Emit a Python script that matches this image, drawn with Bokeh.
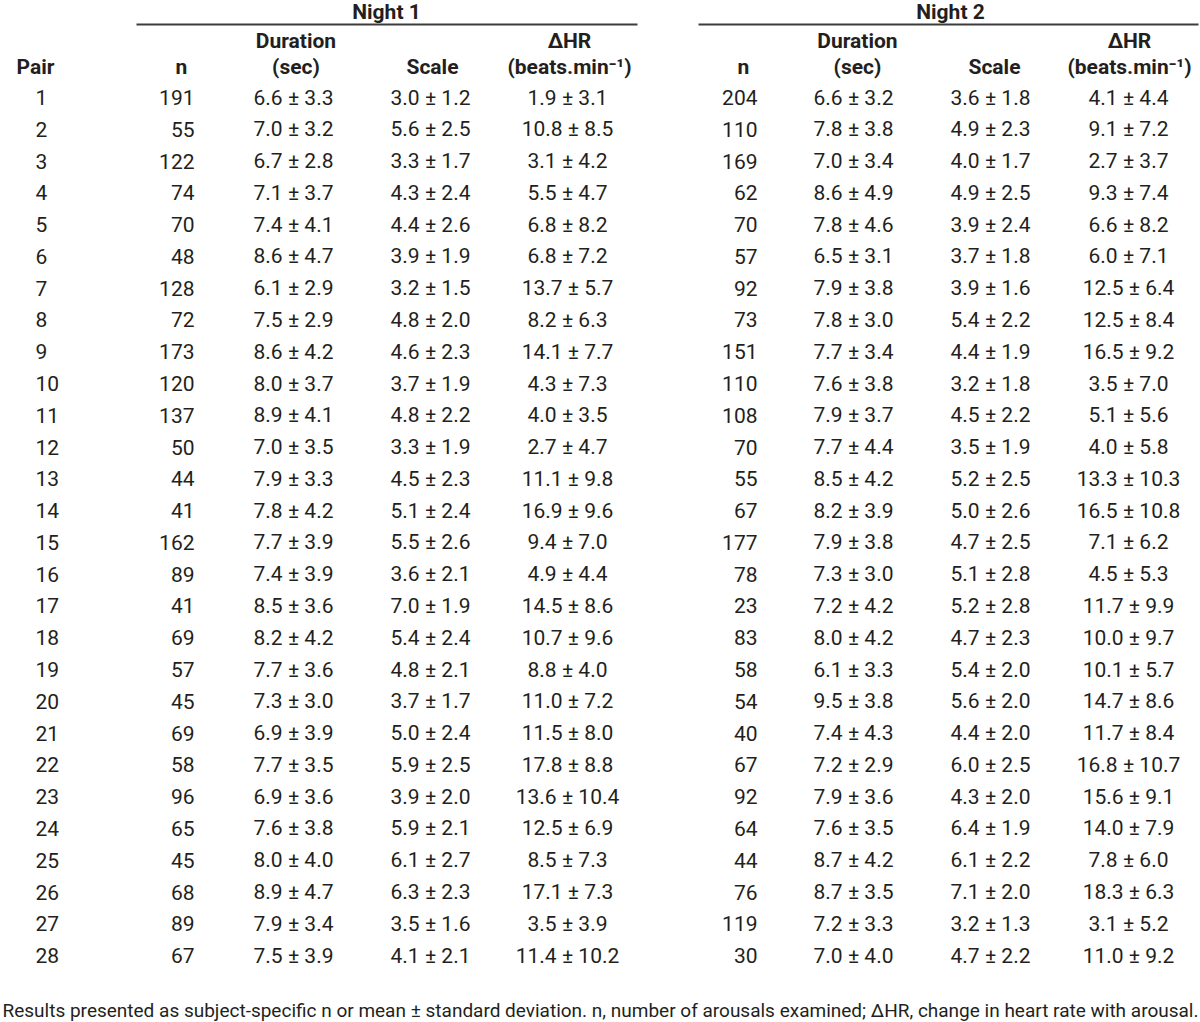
from bokeh.plotting import figure
from bokeh.models import Range1d
from bokeh.core.properties import value
from bokeh.embed import file_html
from bokeh.resources import INLINE

# ---------------- data ----------------
pairs = list(range(1, 29))

n_night1 = [191, 55, 122, 74, 70, 48, 128, 72, 173, 120, 137, 50, 44, 41,
            162, 89, 41, 69, 57, 45, 69, 58, 96, 65, 45, 68, 89, 67]
dur_mean_night1 = [6.6, 7.0, 6.7, 7.1, 7.4, 8.6, 6.1, 7.5, 8.6, 8.0, 8.9, 7.0, 7.9, 7.8,
                   7.7, 7.4, 8.5, 8.2, 7.7, 7.3, 6.9, 7.7, 6.9, 7.6, 8.0, 8.9, 7.9, 7.5]
dur_sd_night1 = [3.3, 3.2, 2.8, 3.7, 4.1, 4.7, 2.9, 2.9, 4.2, 3.7, 4.1, 3.5, 3.3, 4.2,
                 3.9, 3.9, 3.6, 4.2, 3.6, 3.0, 3.9, 3.5, 3.6, 3.8, 4.0, 4.7, 3.4, 3.9]
scale_mean_night1 = [3.0, 5.6, 3.3, 4.3, 4.4, 3.9, 3.2, 4.8, 4.6, 3.7, 4.8, 3.3, 4.5, 5.1,
                     5.5, 3.6, 7.0, 5.4, 4.8, 3.7, 5.0, 5.9, 3.9, 5.9, 6.1, 6.3, 3.5, 4.1]
scale_sd_night1 = [1.2, 2.5, 1.7, 2.4, 2.6, 1.9, 1.5, 2.0, 2.3, 1.9, 2.2, 1.9, 2.3, 2.4,
                   2.6, 2.1, 1.9, 2.4, 2.1, 1.7, 2.4, 2.5, 2.0, 2.1, 2.7, 2.3, 1.6, 2.1]
dhr_mean_night1 = [1.9, 10.8, 3.1, 5.5, 6.8, 6.8, 13.7, 8.2, 14.1, 4.3, 4.0, 2.7, 11.1, 16.9,
                   9.4, 4.9, 14.5, 10.7, 8.8, 11.0, 11.5, 17.8, 13.6, 12.5, 8.5, 17.1, 3.5, 11.4]
dhr_sd_night1 = [3.1, 8.5, 4.2, 4.7, 8.2, 7.2, 5.7, 6.3, 7.7, 7.3, 3.5, 4.7, 9.8, 9.6,
                 7.0, 4.4, 8.6, 9.6, 4.0, 7.2, 8.0, 8.8, 10.4, 6.9, 7.3, 7.3, 3.9, 10.2]

n_night2 = [204, 110, 169, 62, 70, 57, 92, 73, 151, 110, 108, 70, 55, 67,
            177, 78, 23, 83, 58, 54, 40, 67, 92, 64, 44, 76, 119, 30]
dur_mean_night2 = [6.6, 7.8, 7.0, 8.6, 7.8, 6.5, 7.9, 7.8, 7.7, 7.6, 7.9, 7.7, 8.5, 8.2,
                   7.9, 7.3, 7.2, 8.0, 6.1, 9.5, 7.4, 7.2, 7.9, 7.6, 8.7, 8.7, 7.2, 7.0]
dur_sd_night2 = [3.2, 3.8, 3.4, 4.9, 4.6, 3.1, 3.8, 3.0, 3.4, 3.8, 3.7, 4.4, 4.2, 3.9,
                 3.8, 3.0, 4.2, 4.2, 3.3, 3.8, 4.3, 2.9, 3.6, 3.5, 4.2, 3.5, 3.3, 4.0]
scale_mean_night2 = [3.6, 4.9, 4.0, 4.9, 3.9, 3.7, 3.9, 5.4, 4.4, 3.2, 4.5, 3.5, 5.2, 5.0,
                     4.7, 5.1, 5.2, 4.7, 5.4, 5.6, 4.4, 6.0, 4.3, 6.4, 6.1, 7.1, 3.2, 4.7]
scale_sd_night2 = [1.8, 2.3, 1.7, 2.5, 2.4, 1.8, 1.6, 2.2, 1.9, 1.8, 2.2, 1.9, 2.5, 2.6,
                   2.5, 2.8, 2.8, 2.3, 2.0, 2.0, 2.0, 2.5, 2.0, 1.9, 2.2, 2.0, 1.3, 2.2]
dhr_mean_night2 = [4.1, 9.1, 2.7, 9.3, 6.6, 6.0, 12.5, 12.5, 16.5, 3.5, 5.1, 4.0, 13.3, 16.5,
                   7.1, 4.5, 11.7, 10.0, 10.1, 14.7, 11.7, 16.8, 15.6, 14.0, 7.8, 18.3, 3.1, 11.0]
dhr_sd_night2 = [4.4, 7.2, 3.7, 7.4, 8.2, 7.1, 6.4, 8.4, 9.2, 7.0, 5.6, 5.8, 10.3, 10.8,
                 6.2, 5.3, 9.9, 9.7, 5.7, 8.6, 8.4, 10.7, 9.1, 7.9, 6.0, 6.3, 5.2, 9.2]

night_labels = ["Night 1", "Night 2"]
footnote = ("Results presented as subject-specific n or mean \u00b1 standard deviation. "
            "n, number of arousals examined; \u0394HR, change in heart rate with arousal.")

# ---------------- styling / layout ----------------
FONT = "Roboto"
FS = "21px"
FS_FOOT = "19px"
INK = "#231f20"

W, H = 1200, 1022
# data coordinates = pixel coordinates of the page
p = figure(width=W, height=H, x_range=Range1d(0, W), y_range=Range1d(H, 0),
           output_backend="svg", toolbar_location=None,
           x_axis_type=None, y_axis_type=None, min_border=0)
p.grid.visible = False
p.outline_line_color = None
p.background_fill_color = "white"
p.border_fill_color = "white"

# vertical centres of the text lines
ROW0, STEP = 97.0, 31.78
row_y = [ROW0 + i * STEP for i in range(len(pairs))]
HEAD_A, HEAD_B, NIGHT_Y, RULE_Y, FOOT_Y = 40.5, 66, 11.5, 24, 1009.5


def txt(xs, ys, texts, align, bold=False, size=FS):
    p.text(x=xs, y=ys, text=texts, text_align=align, text_baseline="middle",
           text_font=value(FONT), text_font_size=size,
           text_font_style="bold" if bold else "normal", text_color=INK)


def pm(means, sds):
    return ["%.1f \u00b1 %.1f" % (m, s) for m, s in zip(means, sds)]


# Pair column
txt([35], [HEAD_B], ["Pair"], "center", bold=True)
txt([35] * len(pairs), row_y, [str(v) for v in pairs], "left")

nights = [
    dict(label_x=386, rule=(136, 637), n_head=181, n_x=194, dur=293, dur_head=295.5,
         sc=430, sc_head=432, hr=567, hr_head=569,
         n=n_night1, dm=dur_mean_night1, ds=dur_sd_night1,
         sm=scale_mean_night1, ss=scale_sd_night1, hm=dhr_mean_night1, hs=dhr_sd_night1),
    dict(label_x=950, rule=(698, 1198), n_head=743, n_x=757, dur=853, dur_head=857,
         sc=990, sc_head=994, hr=1128, hr_head=1129,
         n=n_night2, dm=dur_mean_night2, ds=dur_sd_night2,
         sm=scale_mean_night2, ss=scale_sd_night2, hm=dhr_mean_night2, hs=dhr_sd_night2),
]

for lab, c in zip(night_labels, nights):
    txt([c["label_x"]], [NIGHT_Y], [lab], "center", bold=True)
    p.segment(x0=[c["rule"][0]], y0=[RULE_Y], x1=[c["rule"][1]], y1=[RULE_Y],
              line_color="#3c3c3c", line_width=2)
    # headers
    txt([c["n_head"]], [HEAD_B], ["n"], "center", bold=True)
    txt([c["dur_head"]], [HEAD_A], ["Duration"], "center", bold=True)
    txt([c["dur_head"]], [HEAD_B], ["(sec)"], "center", bold=True)
    txt([c["sc_head"]], [HEAD_B], ["Scale"], "center", bold=True)
    txt([c["hr_head"]], [HEAD_A], ["\u0394HR"], "center", bold=True)
    txt([c["hr_head"]], [HEAD_B], ["(beats.min\u207b\u00b9)"], "center", bold=True)
    # body
    txt([c["n_x"]] * len(pairs), row_y, [str(v) for v in c["n"]], "right")
    txt([c["dur"]] * len(pairs), row_y, pm(c["dm"], c["ds"]), "center")
    txt([c["sc"]] * len(pairs), row_y, pm(c["sm"], c["ss"]), "center")
    txt([c["hr"]] * len(pairs), row_y, pm(c["hm"], c["hs"]), "center")

txt([600], [FOOT_Y], [footnote], "center", size=FS_FOOT)

open("out.html", "w").write(file_html(p, INLINE))
